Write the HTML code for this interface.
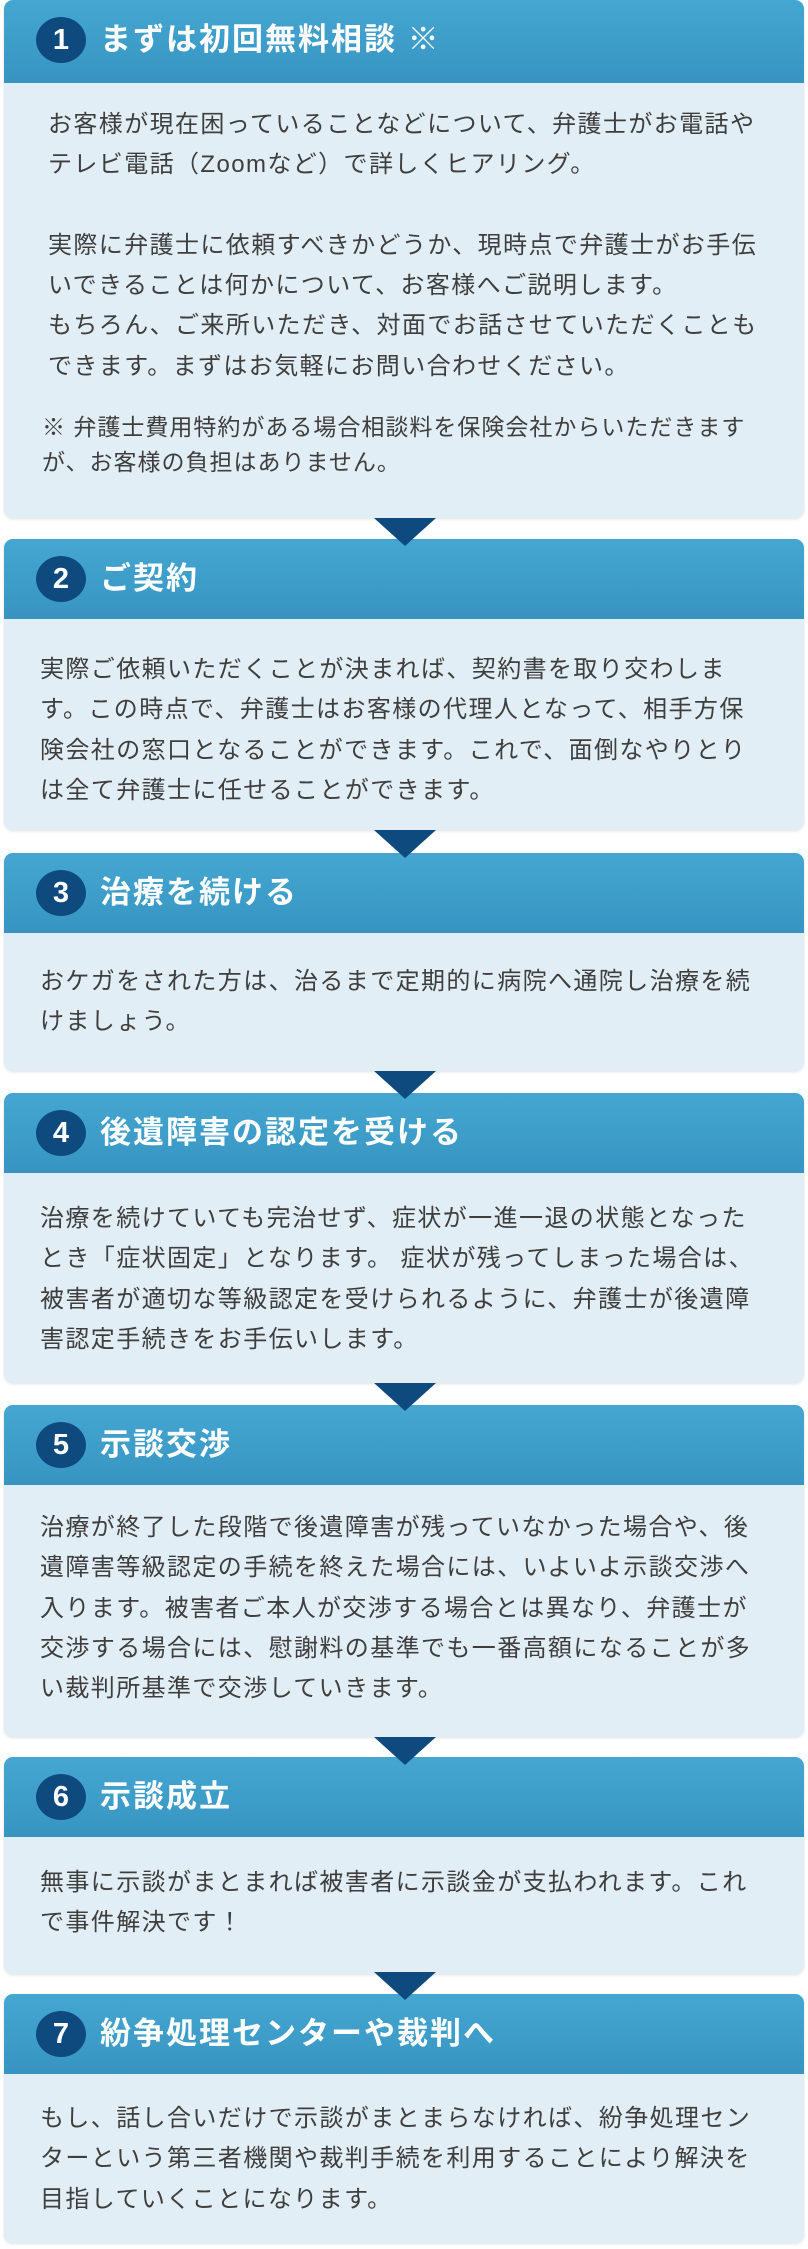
<!DOCTYPE html>
<html><head><meta charset="utf-8"><style>
*{margin:0;padding:0;box-sizing:border-box}
body{width:808px;height:2249px;background:#fff;position:relative;overflow:hidden;font-family:"Liberation Sans","Noto Sans CJK JP",sans-serif}
.card{position:absolute;left:4px;width:800px;border-radius:9px;background:#e2eef5;box-shadow:0 1px 3px rgba(0,0,0,.12);overflow:hidden}
.hd{position:absolute;left:0;top:0;width:800px;height:80px;background:linear-gradient(#45a7d1,#3794c2)}
.num{position:absolute;left:32px;top:17px;width:50px;height:46px;border-radius:50%;background:#0f4a7f;color:#fff;font-weight:bold;font-size:29px;line-height:46px;text-align:center}
.tt{position:absolute;left:96px;top:17px;color:#fff;font-weight:bold;font-size:31px;letter-spacing:2px;line-height:46px;white-space:nowrap}
.tx{position:absolute;left:36px;color:#3e3e3e;font-size:24px;letter-spacing:1.4px;line-height:40.3px;white-space:nowrap}
.ar{position:absolute;left:374px;width:0;height:0;border-left:31px solid transparent;border-right:31px solid transparent;border-top:28px solid #0f4a7f;z-index:5}
</style></head><body>

<div class="card" style="top:0;height:518px"><div class="hd" style="height:83px"></div><div class="num">1</div><div class="tt">まずは初回無料相談 ※</div>
<div class="tx" style="left:44px;top:105px">お客様が現在困っていることなどについて、弁護士がお電話や<br>テレビ電話（Zoomなど）で詳しくヒアリング。<br><br>実際に弁護士に依頼すべきかどうか、現時点で弁護士がお手伝<br>いできることは何かについて、お客様へご説明します。<br>もちろん、ご来所いただき、対面でお話させていただくことも<br>できます。まずはお気軽にお問い合わせください。</div>
<div class="tx" style="left:38px;top:410px;line-height:35px;font-size:23px;letter-spacing:1px">※ 弁護士費用特約がある場合相談料を保険会社からいただきます<br>が、お客様の負担はありません。</div></div>
<div class="ar" style="top:518px"></div>

<div class="card" style="top:539px;height:291px"><div class="hd"></div><div class="num">2</div><div class="tt">ご契約</div>
<div class="tx" style="top:111px">実際ご依頼いただくことが決まれば、契約書を取り交わしま<br>す。この時点で、弁護士はお客様の代理人となって、相手方保<br>険会社の窓口となることができます。これで、面倒なやりとり<br>は全て弁護士に任せることができます。</div></div>
<div class="ar" style="top:830px"></div>

<div class="card" style="top:853px;height:218px"><div class="hd"></div><div class="num">3</div><div class="tt">治療を続ける</div>
<div class="tx" style="top:109px">おケガをされた方は、治るまで定期的に病院へ通院し治療を続<br>けましょう。</div></div>
<div class="ar" style="top:1071px"></div>

<div class="card" style="top:1093px;height:290px"><div class="hd"></div><div class="num">4</div><div class="tt">後遺障害の認定を受ける</div>
<div class="tx" style="top:106px">治療を続けていても完治せず、症状が一進一退の状態となった<br>とき「症状固定」となります。 症状が残ってしまった場合は、<br>被害者が適切な等級認定を受けられるように、弁護士が後遺障<br>害認定手続きをお手伝いします。</div></div>
<div class="ar" style="top:1383px"></div>

<div class="card" style="top:1405px;height:332px"><div class="hd"></div><div class="num">5</div><div class="tt">示談交渉</div>
<div class="tx" style="top:103px">治療が終了した段階で後遺障害が残っていなかった場合や、後<br>遺障害等級認定の手続を終えた場合には、いよいよ示談交渉へ<br>入ります。被害者ご本人が交渉する場合とは異なり、弁護士が<br>交渉する場合には、慰謝料の基準でも一番高額になることが多<br>い裁判所基準で交渉していきます。</div></div>
<div class="ar" style="top:1737px"></div>

<div class="card" style="top:1757px;height:217px"><div class="hd"></div><div class="num">6</div><div class="tt">示談成立</div>
<div class="tx" style="top:106px">無事に示談がまとまれば被害者に示談金が支払われます。これ<br>で事件解決です！</div></div>
<div class="ar" style="top:1972px"></div>

<div class="card" style="top:1994px;height:249px"><div class="hd"></div><div class="num">7</div><div class="tt">紛争処理センターや裁判へ</div>
<div class="tx" style="top:105px">もし、話し合いだけで示談がまとまらなければ、紛争処理セン<br>ターという第三者機関や裁判手続を利用することにより解決を<br>目指していくことになります。</div></div>

</body></html>
